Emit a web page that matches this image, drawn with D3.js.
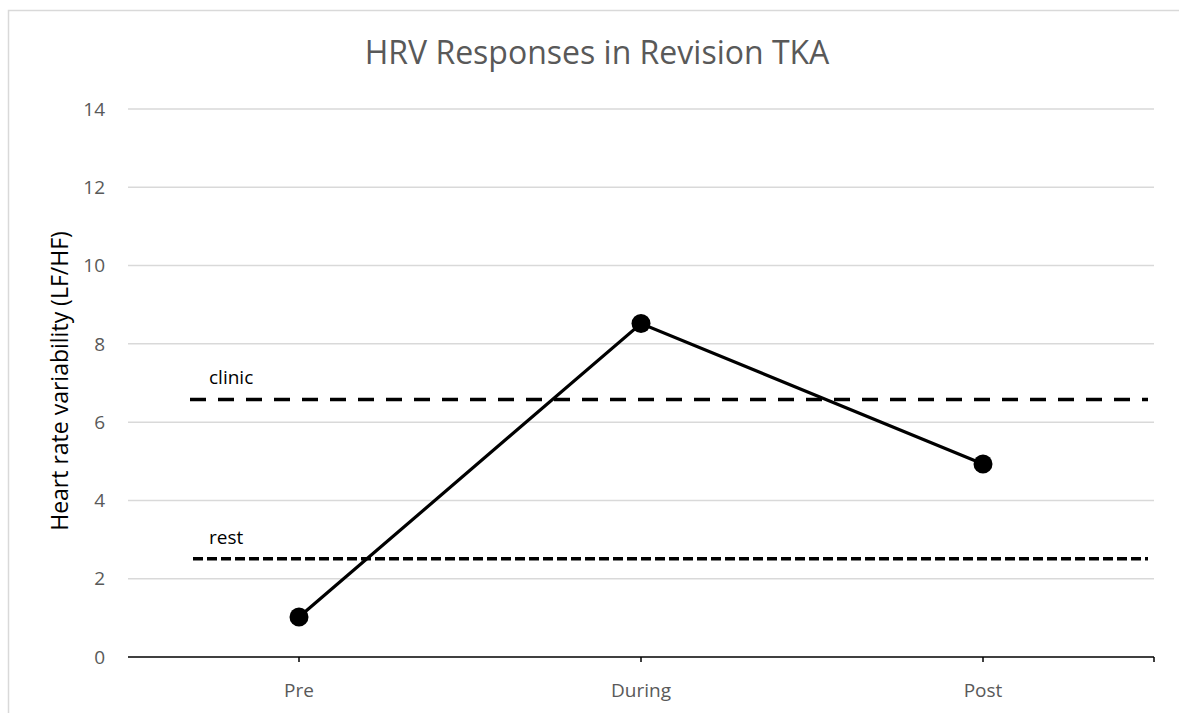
<!DOCTYPE html>
<html>
<head>
<meta charset="utf-8">
<script src="https://cdn.jsdelivr.net/npm/d3@7"></script>
<style>
  body { margin: 0; background: #fff; }
  svg { display: block; font-family: "Open Sans", "Noto Sans", sans-serif; }
</style>
</head>
<body>
<div id="chart"></div>
<script>
'use strict'

// data
const categories = ['Pre', 'During', 'Post'];
const hrvValues = [1.02, 8.52, 4.93];
const refNames = ['clinic', 'rest'];
const refValues = [6.58, 2.51];
const yTicks = [0, 2, 4, 6, 8, 10, 12, 14];

const width = 1179;
const height = 713;
const margin = { top: 109, right: 25, bottom: 56, left: 128 };

const svg = d3.select('#chart').append('svg')
  .attr('width', width)
  .attr('height', height);

// chart frame (cropped at right and bottom)
svg.append('rect')
  .attr('x', 8.5).attr('y', 10.5)
  .attr('width', width + 20).attr('height', height + 20)
  .attr('fill', 'none')
  .attr('stroke', '#d9d9d9')
  .attr('stroke-width', 1.5);

const x = d3.scaleBand()
  .domain(categories)
  .range([margin.left, width - margin.right])
  .padding(0);

const y = d3.scaleLinear()
  .domain([0, 14])
  .range([height - margin.bottom, margin.top]);

// gridlines
svg.append('g')
  .selectAll('line')
  .data(yTicks.filter(d => d > 0))
  .join('line')
  .attr('x1', margin.left).attr('x2', width - margin.right)
  .attr('y1', d => y(d)).attr('y2', d => y(d))
  .attr('stroke', '#d9d9d9')
  .attr('stroke-width', 1.5);

// y axis labels
svg.append('g')
  .selectAll('text')
  .data(yTicks)
  .join('text')
  .attr('x', 105)
  .attr('y', d => y(d))
  .attr('dy', '0.35em')
  .attr('text-anchor', 'end')
  .attr('fill', '#595959')
  .attr('font-size', 19)
  .text(d => d);

// x axis
const xAxis = svg.append('g')
  .attr('transform', `translate(0,${y(0)})`);

xAxis.append('line')
  .attr('x1', margin.left).attr('x2', width - margin.right)
  .attr('stroke', '#000')
  .attr('stroke-width', 1.5);

const tickXs = categories.map(c => x(c) + x.bandwidth() / 2).concat([width - margin.right]);
xAxis.selectAll('.tick')
  .data(tickXs)
  .join('line')
  .attr('class', 'tick')
  .attr('x1', d => d).attr('x2', d => d)
  .attr('y1', 0).attr('y2', 5)
  .attr('stroke', '#000')
  .attr('stroke-width', 1.5);

xAxis.selectAll('text')
  .data(categories)
  .join('text')
  .attr('x', d => x(d) + x.bandwidth() / 2)
  .attr('y', 40)
  .attr('text-anchor', 'middle')
  .attr('fill', '#595959')
  .attr('font-size', 19)
  .text(d => d);

// reference lines
const refDash = ['16,12', '10,4'];
const refStart = [190, 193];

svg.append('g')
  .selectAll('line')
  .data(refValues)
  .join('line')
  .attr('x1', (d, i) => refStart[i])
  .attr('x2', 1148)
  .attr('y1', d => y(d)).attr('y2', d => y(d))
  .attr('stroke', '#000')
  .attr('stroke-width', 3.5)
  .attr('stroke-dasharray', (d, i) => refDash[i]);

svg.append('g')
  .selectAll('text')
  .data(refValues)
  .join('text')
  .attr('x', 209)
  .attr('y', d => y(d) - 15)
  .attr('fill', '#000')
  .attr('font-size', 19)
  .text((d, i) => refNames[i]);

// main series
const points = categories.map((c, i) => [x(c) + x.bandwidth() / 2, y(hrvValues[i])]);

svg.append('path')
  .attr('d', d3.line()(points))
  .attr('fill', 'none')
  .attr('stroke', '#000')
  .attr('stroke-width', 3.2);

svg.append('g')
  .selectAll('circle')
  .data(points)
  .join('circle')
  .attr('cx', d => d[0])
  .attr('cy', d => d[1])
  .attr('r', 9.5)
  .attr('fill', '#000');

// title
svg.append('text')
  .attr('x', 597)
  .attr('y', 64)
  .attr('text-anchor', 'middle')
  .attr('fill', '#595959')
  .attr('font-size', 32)
  .text('HRV Responses in Revision TKA');

// y axis title
svg.append('text')
  .attr('transform', `translate(68,381) rotate(-90)`)
  .attr('text-anchor', 'middle')
  .attr('fill', '#000')
  .attr('font-size', 23)
  .text('Heart rate variability (LF/HF)');
</script>
</body>
</html>
